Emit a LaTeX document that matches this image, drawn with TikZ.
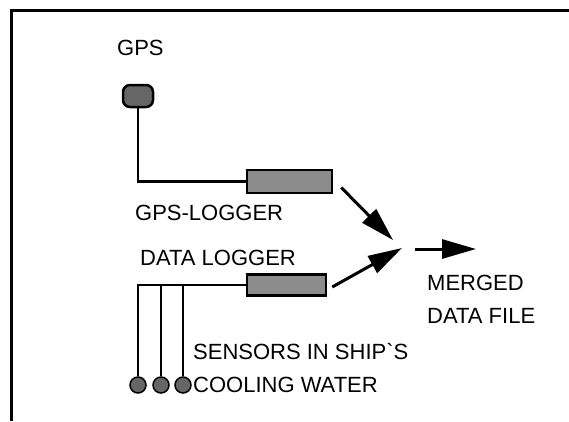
\documentclass[tikz,border=0pt]{standalone}
\usepackage{fontspec}
\setmainfont{Liberation Sans}
\usetikzlibrary{arrows.meta}
\begin{document}
\begin{tikzpicture}[x=1pt, y=-1pt, line join=miter]
        \tikzstyle{logger}=[draw, rectangle, line width=2.5pt, fill=black!45, inner sep=0pt]
        \tikzstyle{probe}=[draw, circle, line width=1.5pt, fill=black!60, minimum size=16pt, inner sep=0pt]
        \tikzstyle{caption}=[anchor=base west, inner sep=0pt, align=left, font=\fontsize{22}{33.5}\selectfont]
        \tikzstyle{wire}=[line width=2.2pt]
        \tikzstyle{flow}=[line width=3pt, -{Triangle[length=34pt, width=19pt]}]

        \useasboundingbox (0,0) rectangle (569,421);
        \draw[line width=3pt] (11,421) -- (11,10) -- (569,10);

        \node[caption] (gpstext) at (117,55) {GPS};
        \node[draw, line width=2.5pt, fill=black!60, rounded corners=7pt, minimum width=30pt, minimum height=22pt, inner sep=0pt] (gps) at (138,96) {};

        \node[logger, minimum width=85pt, minimum height=23pt] (gpslog) at (289.5,181.5) {};
        \node[caption] (gpslogtext) at (135,220) {GPS-LOGGER};
        \node[caption] (datalogtext) at (140,265) {DATA LOGGER};
        \node[logger, minimum width=79pt, minimum height=21pt] (datalog) at (286.5,285) {};

        \node[probe] (s1) at (138,385) {};
        \node[probe] (s2) at (161,385) {};
        \node[probe] (s3) at (183,385) {};
        \node[caption, anchor=north west] (sensortext) at (193,343) {SENSORS IN SHIP\textasciigrave S\\COOLING WATER};

        \node[caption, anchor=north west] (mergedtext) at (427,274.5) {MERGED\\DATA FILE};

        \coordinate (tipa) at (393,240);
        \coordinate (tipb) at (402,248);
        \coordinate (outa) at (415,249);
        \coordinate (outb) at (476,249);

        \draw[wire] (gps.south) |- (gpslog.west);
        \draw[wire] (s1.north) |- (datalog.west);
        \draw[wire] (s2.north) -- (s2 |- datalog.west);
        \draw[wire] (s3.north) -- (s3 |- datalog.west);

        \draw[flow] (gpslog.east) ++(8,6) -- (tipa);
        \draw[flow] (datalog.east) ++(5,2) -- (tipb);
        \draw[flow] (outa) -- (outb);
    \end{tikzpicture}
\end{document}
